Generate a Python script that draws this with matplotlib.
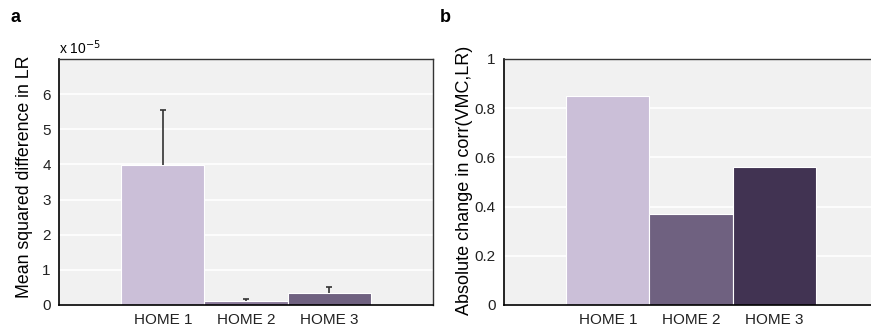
import matplotlib.pyplot as plt

plt.rcParams['font.family'] = ['Liberation Sans', 'DejaVu Sans']

# Data
homes = ['HOME 1', 'HOME 2', 'HOME 3']
msd_values = [3.98, 0.11, 0.34]       # x 1e-5
msd_errors = [1.58, 0.07, 0.17]       # x 1e-5, upper only
corr_change = [0.85, 0.37, 0.56]

colors_a = ['#cbbfd8', '#8b7b9b', '#6f6180']
colors_b = ['#cbbfd8', '#6f6180', '#413352']

W, H = 871, 331
fig = plt.figure(figsize=(W / 100, H / 100), dpi=100)

def style_axes(ax):
    ax.set_facecolor('#f1f1f1')
    ax.grid(axis='y', color='white', lw=1.2)
    ax.set_axisbelow(True)
    ax.tick_params(length=0, labelsize=11, pad=6, labelcolor='#222222')
    for s in ['left', 'bottom']:
        ax.spines[s].set_color('black')
        ax.spines[s].set_linewidth(1.2)
    for s in ['top', 'right']:
        ax.spines[s].set_color('#333333')
        ax.spines[s].set_linewidth(1.0)
    ax.set_xlim(-0.25, 4.25)
    ax.set_xticks([1, 2, 3])
    ax.set_xticklabels(homes)

# Panel a
ax1 = fig.add_axes([59 / W, 26 / H, 374 / W, 246 / H])
x = [1, 2, 3]
ax1.bar(x, msd_values, width=1.0, color=colors_a, edgecolor='white', lw=0.8, zorder=2)
eb = ax1.errorbar(x, msd_values, yerr=[[0, 0, 0], msd_errors], fmt='none',
                  ecolor='#333333', elinewidth=1.2, capsize=2.5, capthick=1.2, zorder=3)
eb[1][0].set_visible(False)  # no cap at the bar top
style_axes(ax1)
ax1.set_ylim(0, 7)
ax1.set_yticks([0, 1, 2, 3, 4, 5, 6])
ax1.set_yticklabels(['0', '1', '2', '3', '4', '5', '6'])
ax1.set_ylabel('Mean squared difference in LR', fontsize=12.8)
ax1.yaxis.set_label_coords(-0.07, 0.52)
ax1.text(0.0, 1.01, r'x 10$^{-5}$', transform=ax1.transAxes, fontsize=10,
         ha='left', va='bottom')

# Panel b
ax2 = fig.add_axes([504 / W, 26 / H, 374 / W, 246 / H])
ax2.bar(x, corr_change, width=1.0, color=colors_b, edgecolor='white', lw=0.8, zorder=2)
style_axes(ax2)
ax2.set_ylim(0, 1)
ax2.set_yticks([0, 0.2, 0.4, 0.6, 0.8, 1])
ax2.set_yticklabels(['0', '0.2', '0.4', '0.6', '0.8', '1'])
ax2.set_ylabel('Absolute change in corr(VMC,LR)', fontsize=13)
ax2.yaxis.set_label_coords(-0.083, 0.505)

fig.text(10 / W, 1 - 18 / H, 'a', fontsize=13, fontweight='bold', va='center')
fig.text(440 / W, 1 - 18 / H, 'b', fontsize=13, fontweight='bold', va='center')

fig.savefig('out.png', dpi=100)
